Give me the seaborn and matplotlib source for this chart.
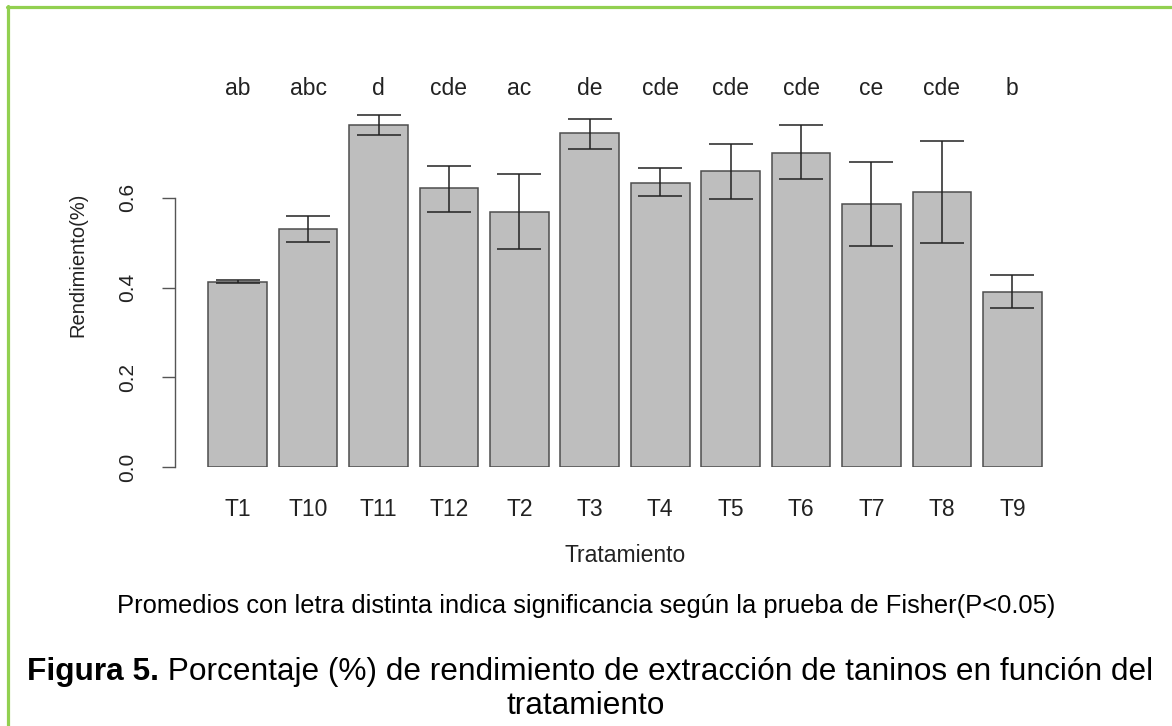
import matplotlib
matplotlib.use("Agg")
import matplotlib.pyplot as plt
import seaborn as sns
import pandas as pd
from matplotlib.lines import Line2D

# --- datos ---
tratamientos = ["T1", "T10", "T11", "T12", "T2", "T3", "T4", "T5", "T6", "T7", "T8", "T9"]
rendimiento = [0.413, 0.530, 0.763, 0.623, 0.569, 0.745, 0.633, 0.660, 0.700, 0.586, 0.613, 0.390]
err_sup = [0.416, 0.559, 0.785, 0.671, 0.653, 0.775, 0.667, 0.720, 0.763, 0.680, 0.727, 0.427]
err_inf = [0.410, 0.501, 0.740, 0.569, 0.486, 0.708, 0.604, 0.598, 0.642, 0.493, 0.499, 0.354]
letras = ["ab", "abc", "d", "cde", "ac", "de", "cde", "cde", "cde", "ce", "cde", "b"]
y_letras = 0.845

nota = "Promedios con letra distinta indica significancia según la prueba de Fisher(P<0.05)"
fig_num = "Figura 5."
fig_txt = " Porcentaje (%) de rendimiento de extracción de taninos en función del"
fig_txt2 = "tratamiento"

sns.set_style("white")
plt.rcParams['font.family'] = ['Liberation Sans', 'DejaVu Sans']

df = pd.DataFrame({"Tratamiento": tratamientos, "Rendimiento": rendimiento})

fig = plt.figure(figsize=(11.72, 7.26), dpi=100)
W, H = 1172, 726
ax = fig.add_axes([175 / W, (H - 467) / H, 900 / W, 0.87 * 448.5 / H])

sns.barplot(data=df, x="Tratamiento", y="Rendimiento", order=tratamientos,
            color="#bebebe", saturation=1, width=0.833, edgecolor="#4d4d4d",
            linewidth=1.1, errorbar=None, ax=ax)

# barras de error
xs = range(len(tratamientos))
yerr = [[r - lo for r, lo in zip(rendimiento, err_inf)],
        [hi - r for r, hi in zip(rendimiento, err_sup)]]
ax.errorbar(xs, rendimiento, yerr=yerr, fmt="none", ecolor="#222222",
            elinewidth=1.1, capsize=15.5, capthick=1.1)

# letras de significancia
for i, l in enumerate(letras):
    ax.text(i, y_letras, l, ha="center", va="center", fontsize=16.5,
            color="#222222", clip_on=False)

ax.set_xlim(-0.89, 11.89)
ax.set_ylim(0, 0.87)
sns.despine(ax=ax, top=True, right=True, bottom=True, left=False)
ax.spines["left"].set_bounds(0, 0.6)
ax.spines["left"].set_color("#555555")
ax.spines["left"].set_linewidth(1)

ax.set_yticks([0.0, 0.2, 0.4, 0.6])
ax.set_yticklabels(["0.0", "0.2", "0.4", "0.6"], rotation=90, va="center")
ax.tick_params(axis="y", length=9.5, width=1, color="#555555", pad=18,
               labelsize=15, labelcolor="#222222", left=True)
ax.tick_params(axis="x", length=0, pad=22, labelsize=16.5, labelcolor="#222222")

ax.set_xlabel("Tratamiento", fontsize=16.5, color="#222222")
ax.xaxis.set_label_coords(0.5, (467 - 555) / (0.87 * 448.5))
ax.xaxis.label.set_va("center")
ax.set_ylabel("Rendimiento(%)", fontsize=14.5, color="#222222")
ax.yaxis.set_label_coords((78 - 175) / 900, (467 - 265) / (0.87 * 448.5))
ax.yaxis.label.set_va("center")

# pie de figura
fig.text(0.5, 1 - 606 / H, nota, ha="center", va="center", fontsize=18.4, color="black")

r = fig.canvas.get_renderer()
t1 = fig.text(0, 1 - 672 / H, fig_num, ha="left", va="center", fontsize=22.8,
              fontweight="bold", color="black")
t2 = fig.text(0, 1 - 672 / H, fig_txt, ha="left", va="center", fontsize=22.8, color="black")
w1 = t1.get_window_extent(r).width
w2 = t2.get_window_extent(r).width
x0 = (W - (w1 + w2)) / 2 + 4
t1.set_x(x0 / W)
t2.set_x((x0 + w1) / W)
fig.text(0.5, 1 - 706 / H, fig_txt2, ha="center", va="center", fontsize=22.8, color="black")

# borde verde
verde = "#92d050"
fig.add_artist(Line2D([7.5 / W, 7.5 / W], [0, 1 - 6 / H], color=verde, lw=2.3,
                      transform=fig.transFigure))
fig.add_artist(Line2D([6.5 / W, 1], [1 - 7 / H, 1 - 7 / H], color=verde, lw=2.3,
                      transform=fig.transFigure))

fig.savefig("out.png", dpi=100)
